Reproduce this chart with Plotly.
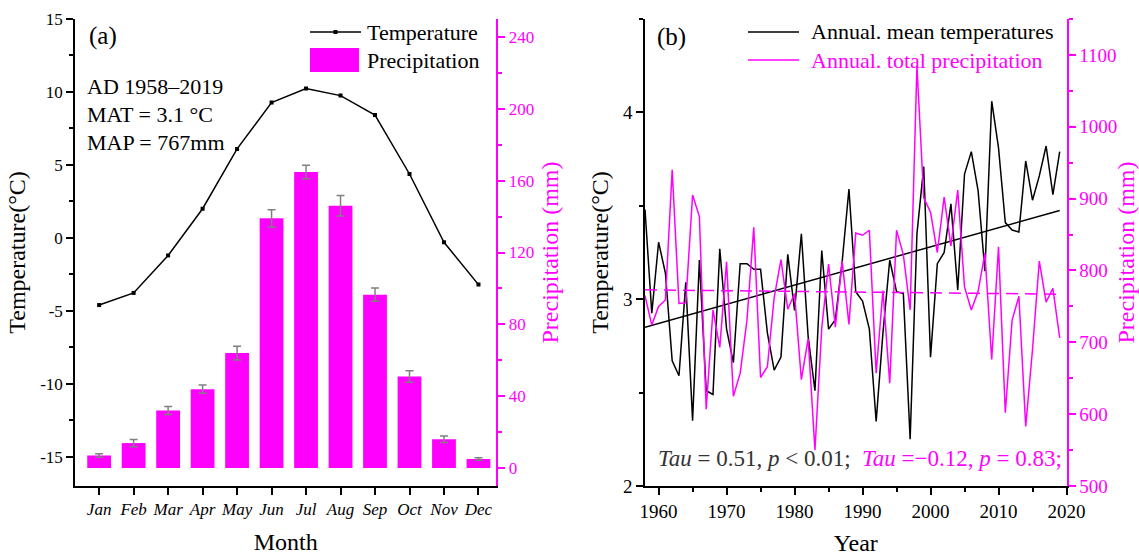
import plotly.graph_objects as go
import numpy as np

# ---------------- data: panel (a) ----------------
months = ["Jan", "Feb", "Mar", "Apr", "May", "Jun", "Jul", "Aug", "Sep", "Oct", "Nov", "Dec"]
temp_month = [-4.6, -3.77, -1.2, 2.0, 6.1, 9.27, 10.23, 9.75, 8.42, 4.38, -0.3, -3.2]
precip_month = [7.0, 13.9, 32.0, 43.9, 64.0, 139.0, 164.8, 146.0, 96.5, 51.0, 16.0, 5.0]
precip_err = [1.0, 2.0, 2.2, 2.3, 3.8, 4.8, 3.8, 5.7, 3.7, 3.2, 1.8, 0.7]
temp_ticks = [-15, -10, -5, 0, 5, 10, 15]
temp_ticklabels = ["-15", "-10", "-5", "0", "5", "10", "15"]

# ---------------- data: panel (b) ----------------
years = list(range(1958, 2020))
temp_annual = [3.48, 2.925, 3.305, 3.14, 2.67, 2.59, 3.09, 2.35, 3.21, 2.51,
               2.49, 3.27, 2.84, 2.66, 3.19, 3.19, 3.16, 3.16, 2.82, 2.62,
               2.69, 3.24, 2.94, 3.35, 2.80, 2.51, 3.26, 2.84, 2.89, 3.20,
               3.59, 3.04, 2.99, 2.84, 2.345, 2.82, 3.21, 3.04, 3.03, 2.25,
               3.35, 3.71, 2.69, 3.19, 3.25, 3.51, 3.05, 3.67, 3.79, 3.58,
               3.15, 4.06, 3.81, 3.41, 3.37, 3.36, 3.74, 3.53, 3.66, 3.82,
               3.56, 3.79]
precip_annual = [765, 724, 750, 759, 940, 754, 755, 905, 875, 607,
                 745, 693, 812, 625, 657, 731, 860, 651, 666, 762,
                 815, 746, 768, 648, 705, 550, 720, 809, 721, 813,
                 725, 852, 849, 856, 657, 772, 643, 856, 822, 745,
                 1085, 901, 881, 825, 902, 834, 912, 777, 745, 771,
                 824, 676, 833, 602, 731, 764, 583, 690, 813, 756,
                 775, 706]
trend_years = [1958, 2019]
temp_trend = [2.85, 3.475]
precip_trend = [773, 767]

FONT = "Liberation Serif"
MAG = "#FF00FF"
W, H = 1139, 556

idx = list(range(len(months)))

fig = go.Figure()

# panel (a)
fig.add_trace(go.Scatter(
    x=idx, y=temp_month, mode="lines+markers", name="Temperature",
    line=dict(color="black", width=1.5),
    marker=dict(symbol="square", size=4, color="black"),
    xaxis="x", yaxis="y", showlegend=False))
fig.add_trace(go.Bar(
    x=idx, y=precip_month, name="Precipitation", width=0.69,
    marker=dict(color=MAG, line=dict(width=0)),
    error_y=dict(type="data", array=precip_err, color="#808080", thickness=1.5, width=4),
    xaxis="x", yaxis="y2", showlegend=False))

# panel (b)
fig.add_trace(go.Scatter(
    x=years, y=temp_annual, mode="lines", name="Annual. mean temperatures",
    line=dict(color="black", width=1.5), xaxis="x2", yaxis="y3", showlegend=False))
fig.add_trace(go.Scatter(
    x=trend_years, y=temp_trend, mode="lines", showlegend=False,
    line=dict(color="black", width=1.5), xaxis="x2", yaxis="y3"))
fig.add_trace(go.Scatter(
    x=years, y=precip_annual, mode="lines", name="Annual. total precipitation",
    line=dict(color=MAG, width=1.5), xaxis="x2", yaxis="y4", showlegend=False))
fig.add_trace(go.Scatter(
    x=trend_years, y=precip_trend, mode="lines", showlegend=False,
    line=dict(color=MAG, width=1.5, dash="12px,7px"), xaxis="x2", yaxis="y4"))

ydom = [70 / H, 537 / H]
base_axis = dict(showgrid=False, zeroline=False, showline=True, ticks="outside",
                 ticklen=7, tickwidth=1.5, automargin=False)


def tf(size, color="black", **kw):
    return dict(family=FONT, size=size, color=color, **kw)


fig.update_layout(
    width=W, height=H,
    margin=dict(l=0, r=0, t=0, b=0),
    paper_bgcolor="white", plot_bgcolor="white",
    font=dict(family=FONT, color="black"),
    showlegend=False,
    xaxis=dict(**base_axis, domain=[75 / W, 496.4 / W], anchor="y",
               range=[-0.70, 11.52], tickmode="array", tickvals=idx, ticktext=months,
               tickfont=tf(17, style="italic"),
               linecolor="black", linewidth=1.5, tickcolor="black",
               title=dict(text="Month", font=tf(24), standoff=15)),
    yaxis=dict(**base_axis, domain=ydom, anchor="x", range=[-17, 15],
               tickmode="array", tickvals=temp_ticks, ticktext=temp_ticklabels,
               tickfont=tf(17), linecolor="black", linewidth=1.5, tickcolor="black",
               minor=dict(ticks="outside", ticklen=4, tickwidth=1.5, tickcolor="black",
                          tickmode="array", tickvals=list(np.arange(-12.5, 15, 5.0)),
                          showgrid=False),
               title=dict(text="Temperature(°C)", font=tf(24), standoff=8)),
    yaxis2=dict(**base_axis, overlaying="y", side="right", anchor="x", range=[-10, 250],
                tickmode="linear", tick0=0, dtick=40,
                tickfont=tf(17, MAG), linecolor=MAG, linewidth=2, tickcolor=MAG,
                minor=dict(ticks="outside", ticklen=4, tickwidth=1.5, tickcolor=MAG,
                           dtick=20, tick0=0, showgrid=False),
                title=dict(text="Precipitation (mm)", font=tf(24, MAG), standoff=8)),
    xaxis2=dict(**base_axis, domain=[645 / W, 1066.5 / W], anchor="y3",
                range=[1958, 2020], tickmode="linear", tick0=1960, dtick=10,
                tickfont=tf(19), linecolor="black", linewidth=1.5, tickcolor="black",
                minor=dict(ticks="outside", ticklen=4, tickwidth=1.5, tickcolor="black",
                           dtick=5, tick0=1960, showgrid=False),
                title=dict(text="Year", font=tf(24), standoff=15)),
    yaxis3=dict(**base_axis, domain=ydom, anchor="x2", range=[2, 4.5],
                tickmode="linear", tick0=2, dtick=1,
                tickfont=tf(19), linecolor="black", linewidth=1.5, tickcolor="black",
                minor=dict(ticks="outside", ticklen=4, tickwidth=1.5, tickcolor="black",
                           dtick=0.5, tick0=2, showgrid=False),
                title=dict(text="Temperature(°C)", font=tf(24), standoff=8)),
    yaxis4=dict(**base_axis, overlaying="y3", side="right", anchor="x2", range=[500, 1150],
                tickmode="linear", tick0=500, dtick=100,
                tickfont=tf(19, MAG), linecolor=MAG, linewidth=2, tickcolor=MAG,
                minor=dict(ticks="outside", ticklen=4, tickwidth=1.5, tickcolor=MAG,
                           dtick=50, tick0=500, showgrid=False),
                title=dict(text="Precipitation (mm)", font=tf(24, MAG), standoff=8)),
)


def px(x):
    return x / W


def py(y):
    return 1 - y / H


# legends drawn as decorations (paper coordinates)
shapes = [
    # panel (a) legend
    dict(type="line", x0=px(310), x1=px(361), y0=py(32), y1=py(32),
         line=dict(color="black", width=1.5)),
    dict(type="rect", x0=px(333.5), x1=px(337.5), y0=py(34), y1=py(30),
         line=dict(width=0), fillcolor="black"),
    dict(type="rect", x0=px(310), x1=px(359), y0=py(72), y1=py(48),
         line=dict(width=0), fillcolor=MAG),
    # panel (b) legend
    dict(type="line", x0=px(748), x1=px(799), y0=py(32), y1=py(32),
         line=dict(color="black", width=1.5)),
    dict(type="line", x0=px(748), x1=px(799), y0=py(60), y1=py(60),
         line=dict(color=MAG, width=1.5)),
]
for s in shapes:
    s.update(xref="paper", yref="paper")

annotations = [
    dict(text="Temperature", x=px(365), y=py(33), xanchor="left", yanchor="middle", font=tf(22)),
    dict(text="Precipitation", x=px(365), y=py(60), xanchor="left", yanchor="middle", font=tf(22)),
    dict(text="Annual. mean temperatures", x=px(809), y=py(32), xanchor="left",
         yanchor="middle", font=tf(22)),
    dict(text="Annual. total precipitation", x=px(809), y=py(60), xanchor="left",
         yanchor="middle", font=tf(22, MAG)),
    dict(text="(a)", x=px(87), y=py(36), xanchor="left", yanchor="middle", font=tf(25)),
    dict(text="(b)", x=px(655), y=py(37), xanchor="left", yanchor="middle", font=tf(25)),
    dict(text="AD 1958–2019", x=px(85), y=py(86), xanchor="left", yanchor="middle", font=tf(22)),
    dict(text="MAT = 3.1 °C", x=px(85), y=py(114), xanchor="left", yanchor="middle", font=tf(22)),
    dict(text="MAP = 767mm", x=px(85), y=py(143), xanchor="left", yanchor="middle", font=tf(22)),
    dict(text="<i>Tau</i> = 0.51, <i>p</i> &lt; 0.01;  "
              "<span style='color:#FF00FF'><i>Tau</i> =−0.12, <i>p</i> = 0.83;</span>",
         x=px(656), y=py(458), xanchor="left", yanchor="middle", font=tf(23, "#333333")),
]
for a in annotations:
    a.update(xref="paper", yref="paper", showarrow=False)

fig.update_layout(shapes=shapes, annotations=annotations)

fig.write_html("out.html")
